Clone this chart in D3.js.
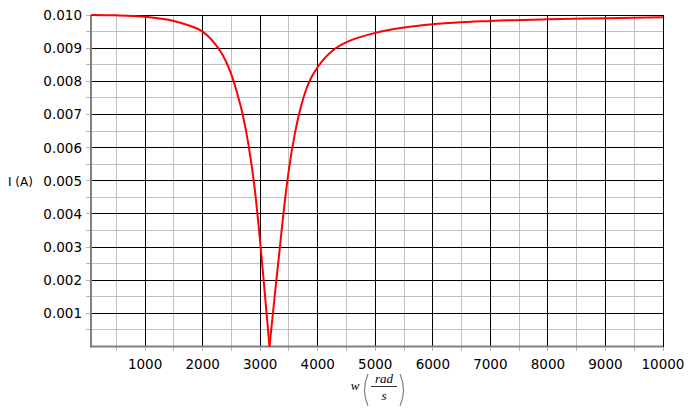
<!DOCTYPE html>
<html>
<head>
<meta charset="utf-8">
<script src="https://cdn.jsdelivr.net/npm/d3@7"></script>
<style>
  html, body { margin: 0; padding: 0; background: #fff; }
  .tick-label { font-family: "DejaVu Sans", Verdana, sans-serif; font-size: 13.5px; fill: #000; }
  .math { font-family: "Liberation Serif", "DejaVu Serif", serif; font-style: italic; font-size: 13px; fill: #000; }
</style>
</head>
<body>
<div id="chart"></div>
<script>
// values
const wValues = [60, 500, 1000, 1500, 1750, 2000, 2100, 2200, 2300, 2400, 2500, 2600,
  2700, 2800, 2900, 3000, 3050, 3100, 3162, 3220, 3280, 3340, 3400, 3500, 3600, 3700,
  3800, 3900, 4000, 4150, 4300, 4500, 4750, 5000, 5500, 6000, 7000, 8000, 9000, 10000];
const currentValues = [0.01000, 0.00999, 0.00995, 0.00982, 0.00969, 0.00950, 0.00935,
  0.00916, 0.00893, 0.00862, 0.00820, 0.00764, 0.00697, 0.00605, 0.00483, 0.00315,
  0.00220, 0.00122, 0.00000, 0.00098, 0.00198, 0.00295, 0.00395, 0.00535, 0.00640,
  0.00718, 0.00776, 0.00815, 0.00843, 0.00875, 0.00898, 0.00918, 0.00934, 0.00946,
  0.00962, 0.00972, 0.00982, 0.00987, 0.00990, 0.00993];

const xTicks = [1000, 2000, 3000, 4000, 5000, 6000, 7000, 8000, 9000, 10000];
const xMinorTicks = [500, 1500, 2500, 3500, 4500, 5500, 6500, 7500, 8500, 9500];
const yTicks = [0.001, 0.002, 0.003, 0.004, 0.005, 0.006, 0.007, 0.008, 0.009, 0.010];
const yMinorTicks = [0.0005, 0.0015, 0.0025, 0.0035, 0.0045, 0.0055, 0.0065, 0.0075, 0.0085, 0.0095];
const xDomain = [60, 10000];
const yDomain = [0, 0.010];

(function() {
  const width = 692;
  const height = 408;
  const plot = {left: 91, right: 663, top: 15, bottom: 346.5};

  const svg = d3.select('#chart').append('svg')
    .attr('width', width)
    .attr('height', height)
    .style('display', 'block');

  const x = d3.scaleLinear().domain(xDomain).range([plot.left, plot.right]);
  const y = d3.scaleLinear().domain(yDomain).range([plot.bottom, plot.top]);

  const grid = svg.append('g').attr('shape-rendering', 'crispEdges');

  // small stubs below / left of the axes
  grid.selectAll('.x-stub')
    .data(xTicks.concat(xMinorTicks))
    .enter().append('line')
    .attr('x1', d => x(d)).attr('x2', d => x(d))
    .attr('y1', plot.bottom).attr('y2', plot.bottom + 4)
    .attr('stroke', '#b4b4b4');
  grid.selectAll('.y-stub')
    .data(yTicks.concat(yMinorTicks))
    .enter().append('line')
    .attr('x1', plot.left - 5).attr('x2', plot.left)
    .attr('y1', d => y(d)).attr('y2', d => y(d))
    .attr('stroke', '#b4b4b4');

  // minor grid first so major sits on top
  grid.selectAll('.v-minor')
    .data(xMinorTicks)
    .enter().append('line')
    .attr('x1', d => x(d)).attr('x2', d => x(d))
    .attr('y1', plot.top).attr('y2', plot.bottom)
    .attr('stroke', '#c0c0c0');
  grid.selectAll('.h-minor')
    .data(yMinorTicks)
    .enter().append('line')
    .attr('x1', plot.left).attr('x2', plot.right)
    .attr('y1', d => y(d)).attr('y2', d => y(d))
    .attr('stroke', '#c0c0c0');

  grid.selectAll('.v-major')
    .data(xTicks)
    .enter().append('line')
    .attr('x1', d => x(d)).attr('x2', d => x(d))
    .attr('y1', plot.top).attr('y2', plot.bottom)
    .attr('stroke', '#000');
  grid.selectAll('.h-major')
    .data(yTicks)
    .enter().append('line')
    .attr('x1', plot.left).attr('x2', plot.right)
    .attr('y1', d => y(d)).attr('y2', d => y(d))
    .attr('stroke', '#000');

  // axes (gray, a bit heavier)
  svg.append('line')
    .attr('x1', plot.left).attr('x2', plot.left)
    .attr('y1', plot.top).attr('y2', plot.bottom + 1)
    .attr('stroke', '#808080').attr('stroke-width', 2);
  svg.append('line')
    .attr('x1', plot.left - 1).attr('x2', plot.right)
    .attr('y1', plot.bottom).attr('y2', plot.bottom)
    .attr('stroke', '#808080').attr('stroke-width', 2);

  // tick labels
  svg.selectAll('.x-label')
    .data(xTicks)
    .enter().append('text')
    .attr('class', 'tick-label')
    .attr('x', d => x(d))
    .attr('y', 369)
    .attr('text-anchor', 'middle')
    .text(d3.format('d'));
  svg.selectAll('.y-label')
    .data(yTicks)
    .enter().append('text')
    .attr('class', 'tick-label')
    .attr('x', 82)
    .attr('y', d => y(d) + 5)
    .attr('text-anchor', 'end')
    .text(d3.format('.3f'));

  // axis titles
  svg.append('text')
    .attr('class', 'tick-label')
    .attr('x', 8)
    .attr('y', y(0.005) + 5)
    .style('font-size', '12px')
    .text('I (A)');

  const xt = svg.append('g');
  xt.append('text').attr('class', 'math').attr('x', 355).attr('y', 390)
    .attr('text-anchor', 'middle').text('w');
  xt.append('text').attr('class', 'math').attr('x', 384).attr('y', 383)
    .attr('text-anchor', 'middle').text('rad');
  xt.append('text').attr('class', 'math').attr('x', 384).attr('y', 400)
    .attr('text-anchor', 'middle').text('s');
  xt.append('line')
    .attr('x1', 371).attr('x2', 397).attr('y1', 386.5).attr('y2', 386.5)
    .attr('stroke', '#333').attr('stroke-width', 1);
  xt.append('path')
    .attr('d', 'M368,374 Q361,390 368,406')
    .attr('fill', 'none').attr('stroke', '#777').attr('stroke-width', 1.1);
  xt.append('path')
    .attr('d', 'M400,374 Q407,390 400,406')
    .attr('fill', 'none').attr('stroke', '#777').attr('stroke-width', 1.1);

  // curve: two monotone branches meeting at the notch so the tip stays sharp
  const data = wValues.map((w, i) => ({w: w, v: currentValues[i]}));
  const minIdx = d3.minIndex(data, d => d.v);
  const line = d3.line()
    .x(d => x(d.w))
    .y(d => y(d.v))
    .curve(d3.curveMonotoneX);

  [data.slice(0, minIdx + 1), data.slice(minIdx)].forEach(branch => {
    svg.append('path')
      .datum(branch)
      .attr('fill', 'none')
      .attr('stroke', '#ff0000')
      .attr('stroke-width', 2)
      .attr('stroke-linejoin', 'round')
      .attr('d', line);
  });
})();
</script>
</body>
</html>
